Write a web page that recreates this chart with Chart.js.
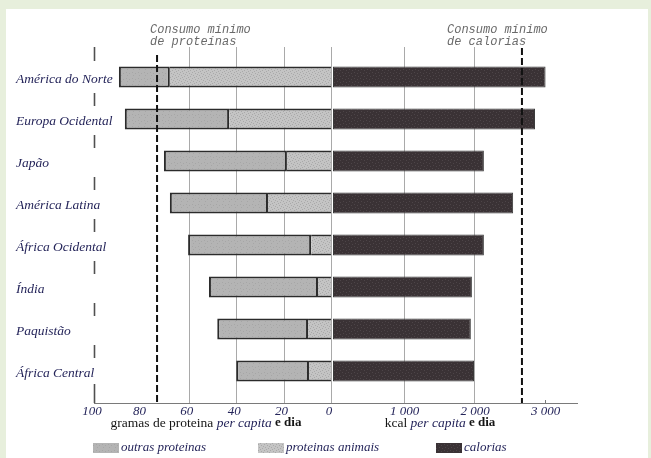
<!DOCTYPE html>
<html><head><meta charset="utf-8">
<script src="https://cdn.jsdelivr.net/npm/chart.js@4.4.1/dist/chart.umd.min.js"></script>
<style>
html,body{margin:0;padding:0;background:#e7efdc;width:651px;height:458px;overflow:hidden;}
#panel{position:absolute;left:6px;top:9px;width:642px;height:449px;background:#fff;}
#wrap{position:absolute;left:0;top:0;width:651px;height:458px;}
</style></head><body>
<div id="panel"></div>
<div id="wrap"><canvas id="c" width="651" height="458"></canvas></div>
<script>
const categories = ['América do Norte','Europa Ocidental','Japão','América Latina','África Ocidental','Índia','Paquistão','África Central'];
const proteinTotal = [89.5, 87, 70.5, 68, 60.3, 51.5, 48, 40];
const proteinAnimal = [68, 43, 18.6, 26.6, 8.4, 5.5, 9.7, 9.3];
const calories = [3015, 2865, 2140, 2555, 2140, 1970, 1955, 2000];
const proteinTicks = [100, 80, 60, 40, 20, 0];
const calorieTicks = [1000, 2000, 3000];
const proteinGrid = [60, 40, 20, 0];
const calorieGrid = [1000, 2000];
const minProtein = 73.4;
const minCalories = 2680;
const calorieTickLabels = ['1 000', '2 000', '3 000'];

function makePattern(base, dot, n){
  const p = document.createElement('canvas'); p.width = 6; p.height = 6;
  const g = p.getContext('2d');
  g.fillStyle = base; g.fillRect(0,0,6,6);
  g.fillStyle = dot;
  const pts = [[0,0],[3,1],[1,3],[4,4],[2,5],[5,2]];
  pts.slice(0,n).forEach(([x,y])=>g.fillRect(x,y,1,1));
  return g.createPattern(p,'repeat');
}
const tmp = document.getElementById('c').getContext('2d');
const otherFill = makePattern('#b4b4b4', '#a6a6a6', 3);
const animalFill = makePattern('#c4c4c4', '#a9a9a9', 6);
const calFill = makePattern('#3a3235', '#4d4548', 4);

const NAVY = '#25255a';
const SERIF = '"Liberation Serif", "DejaVu Serif", serif';

function line(ctx,x1,y1,x2,y2){ctx.beginPath();ctx.moveTo(x1,y1);ctx.lineTo(x2,y2);ctx.stroke();}

const deco = {
  id:'deco',
  beforeDatasetsDraw(chart){
    const {ctx, chartArea:a} = chart;
    const xP = chart.scales.xP, xK = chart.scales.xK, y = chart.scales.y;
    const top = a.top - 9, bot = a.bottom + 11;
    ctx.save();
    ctx.strokeStyle = '#a9a9a9'; ctx.lineWidth = 1;
    proteinGrid.forEach(v=>{const x = Math.round(xP.getPixelForValue(v))+0.5; line(ctx,x,top,x,bot);});
    calorieGrid.forEach(v=>{const x = Math.round(xK.getPixelForValue(v))+0.5; line(ctx,x,top,x,bot);});
    // bottom axis
    ctx.strokeStyle = '#7a7a7a';
    line(ctx, xP.getPixelForValue(100), bot+0.5, a.right, bot+0.5);
    // tick at 3000
    const x3 = Math.round(xK.getPixelForValue(3000))+0.5;
    line(ctx, x3, bot-3, x3, bot);
    // left axis segments
    ctx.strokeStyle = '#505050'; ctx.lineWidth = 1.6;
    const xl = Math.round(xP.getPixelForValue(100))+0.5;
    const centers = categories.map((c,i)=>y.getPixelForValue(i));
    const gap = 13;
    line(ctx, xl, top, xl, centers[0]-gap-3);
    for(let i=0;i<centers.length-1;i++) line(ctx, xl, centers[i]+gap+3, xl, centers[i+1]-gap);
    line(ctx, xl, centers[centers.length-1]+gap, xl, bot);
    ctx.restore();
  },
  afterDatasetsDraw(chart){
    const {ctx, chartArea:a} = chart;
    const xP = chart.scales.xP, xK = chart.scales.xK, y = chart.scales.y;
    const bot = a.bottom + 11;
    ctx.save();
    // dashed minimum lines
    ctx.strokeStyle = '#111'; ctx.lineWidth = 2; ctx.setLineDash([7,3]);
    let xm = xP.getPixelForValue(minProtein);
    line(ctx, xm, a.top - 1, xm, bot);
    xm = xK.getPixelForValue(minCalories);
    line(ctx, xm, a.top - 8, xm, bot);
    ctx.setLineDash([]);
    // category labels
    ctx.fillStyle = NAVY; ctx.font = 'italic 13.5px ' + SERIF;
    ctx.textAlign = 'left'; ctx.textBaseline = 'middle';
    categories.forEach((c,i)=>ctx.fillText(c, 16, y.getPixelForValue(i)+2));
    // tick labels
    ctx.font = 'italic 13px ' + SERIF; ctx.textAlign = 'center';
    proteinTicks.forEach(v=>ctx.fillText(String(v), xP.getPixelForValue(v)-2, bot+9));
    calorieTicks.forEach((v,i)=>ctx.fillText(calorieTickLabels[i], xK.getPixelForValue(v)+1, bot+9));
    // axis titles
    function mixed(parts, cx, cy){
      let w = 0;
      parts.forEach(p=>{ctx.font = p.f; w += ctx.measureText(p.t).width;});
      let x = cx - w/2;
      ctx.textAlign = 'left';
      parts.forEach(p=>{ctx.font = p.f; ctx.fillStyle = p.c; ctx.fillText(p.t, x, cy); x += ctx.measureText(p.t).width;});
    }
    mixed([
      {t:'gramas de proteina ', f:'13.5px '+SERIF, c:'#151515'},
      {t:'per capita', f:'italic 13.5px '+SERIF, c:NAVY},
      {t:' e dia', f:'bold 13px '+SERIF, c:'#151515'}
    ], 206, bot+20);
    mixed([
      {t:'kcal ', f:'13.5px '+SERIF, c:'#151515'},
      {t:'per capita', f:'italic 13.5px '+SERIF, c:NAVY},
      {t:' e dia', f:'bold 13px '+SERIF, c:'#151515'}
    ], 440, bot+20);
    // legend
    const leg = [
      {fill: otherFill, x:93, label:'outras proteinas'},
      {fill: animalFill, x:258, label:'proteinas animais'},
      {fill: calFill, x:436, label:'calorias'}
    ];
    ctx.font = 'italic 13px ' + SERIF; ctx.textAlign = 'left'; ctx.textBaseline = 'middle';
    leg.forEach(l=>{
      ctx.fillStyle = l.fill; ctx.fillRect(l.x, 443, 26, 10);
      ctx.fillStyle = NAVY; ctx.fillText(l.label, l.x+28, 448);
    });
    // annotations
    ctx.fillStyle = '#6a6a6a'; ctx.font = 'italic 12px "Liberation Mono", "DejaVu Sans Mono", monospace';
    ctx.textAlign = 'left';
    ctx.fillText('Consumo mínimo', 150, 30);
    ctx.fillText('de proteínas', 150, 42);
    ctx.fillText('Consumo mínimo', 447, 30);
    ctx.fillText('de calorias', 447, 42);
    ctx.restore();
  }
};

const common = {grouped:false, barThickness:21, borderSkipped:false, inflateAmount:0};
new Chart(document.getElementById('c'), {
  type:'bar',
  data:{
    labels: categories,
    datasets:[
      Object.assign({label:'proteinas animais', xAxisID:'xP',
        data: proteinAnimal.map(v=>[0, v]),
        backgroundColor: animalFill, borderColor:'#2b2b2b',
        borderWidth:{top:2, bottom:2, left:0, right:0}}, common),
      Object.assign({label:'outras proteinas', xAxisID:'xP',
        data: proteinTotal.map((v,i)=>[proteinAnimal[i], v]),
        backgroundColor: otherFill, borderColor:'#2b2b2b', borderWidth:2}, common),
      Object.assign({label:'calorias', xAxisID:'xK',
        data: calories.map(v=>[0, v]),
        backgroundColor: calFill, borderColor:'#3a3a3a', borderWidth:1}, common)
    ]
  },
  options:{
    indexAxis:'y', responsive:false, animation:false, devicePixelRatio:1,
    layout:{padding:{left:94, right:73, top:56, bottom:66}},
    plugins:{legend:{display:false}, tooltip:{enabled:false}},
    scales:{
      y:{type:'category', display:false, offset:true, grid:{display:false}},
      xP:{type:'linear', axis:'x', position:'bottom', reverse:true, min:-104.2, max:100, display:false},
      xK:{type:'linear', axis:'x', position:'bottom', min:-3390, max:3475, display:false}
    }
  },
  plugins:[deco]
});
</script>
</body></html>
